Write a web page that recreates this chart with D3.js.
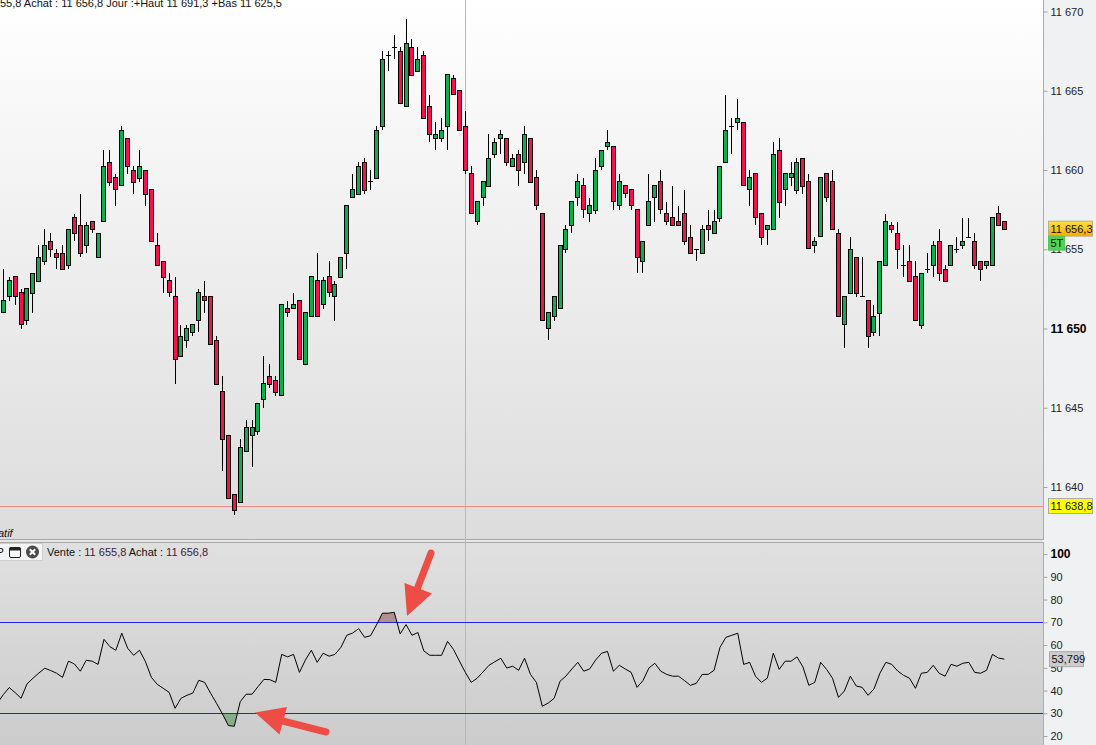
<!DOCTYPE html>
<html>
<head>
<meta charset="utf-8">
<script src="https://cdn.jsdelivr.net/npm/d3@7"></script>
<style>
html,body{margin:0;padding:0;background:#f0f1f3;overflow:hidden}
svg{display:block}
text{font-family:"Liberation Sans",Arial,sans-serif;font-size:11px;fill:#111}
</style>
</head>
<body>
<svg id="c" width="1096" height="745"></svg>
<script>
const opens=[11651,11651,11652,11653.25,11652.25,11650.5,11652.25,11653,11654.25,11655.5,11654.75,
11654.75,11654,11657,11656.5,11655.25,11656.75,11654.5,11656.75,11660.5,11659.5,
11659,11662,11660,11659.5,11660,11658.75,11655.25,11654.25,11653,11652,
11648.25,11649.25,11649.75,11650.5,11652,11652,11649.25,11646,11643.25,11639.5,
11639,11642.25,11643.25,11643.5,11645.5,11647,11646.75,11645.75,11651.25,11651.25,
11651.75,11647.75,11650.75,11653,11651.5,11653.25,11652,11653.25,11654.75,11658.25,
11658.5,11660.5,11659.25,11659.5,11662.75,11667.25,11667.75,11667.5,11664,11667.75,
11666.25,11667.25,11664,11662,11662,11662.75,11665.75,11665,11662.75,11659.75,
11656.75,11658.25,11659,11661,11662,11662,11660.25,11661,11660.5,11662,
11659.5,11657.25,11650,11650.75,11651.25,11655,11656.5,11658.25,11659,11657.25,
11657.5,11660.25,11661.5,11661.5,11657.75,11659,11658.75,11657.5,11654.25,11656.5,
11658.25,11659.25,11657.25,11657,11656.75,11657.25,11655.75,11655,11654.75,11656.5,
11656,11657,11660.5,11662.75,11663,11663,11658.75,11659.75,11657.25,11656.25,
11656.25,11661.25,11658.75,11659.5,11658.75,11660.75,11659.25,11655.25,11655.75,11659.75,
11659.25,11656,11650.25,11652.25,11654.5,11652,11651.75,11649.75,11651,11654,
11656.5,11656,11654,11654.25,11653.25,11650.25,11653.75,11654,11655.5,11653.75,
11654,11655,11655.25,11655.75,11655.5,11654.25,11654,11654,11657.25,11656.75];

const highs=[11652,11653.75,11653.25,11653.25,11652.5,11652.5,11653.5,11655.25,11656.25,11656,11655,
11655.25,11656.25,11657.25,11658.5,11656.75,11656.75,11656,11661.25,11661.25,11659.75,
11662.75,11662,11660.25,11661.25,11660,11658.75,11656,11654.25,11653.5,11653.25,
11650.25,11650.25,11650.25,11652.5,11653,11652,11649.5,11647,11643.25,11639.5,
11643,11644.25,11644.25,11645.25,11648.25,11647.75,11647,11651.5,11651.75,11652.25,
11651.75,11651,11653.25,11654.75,11653.25,11654.25,11653,11654.5,11657.75,11659.75,
11660.5,11660.75,11660,11662.75,11667.5,11667.5,11668.5,11667.75,11669.5,11668.25,
11667.75,11667.5,11664.75,11663,11663.25,11666,11666,11665,11663.75,11660.25,
11658,11659.25,11662.25,11662,11662.5,11662,11661,11661.25,11662.75,11662,
11660,11657.25,11651,11652,11655.25,11656.5,11658,11659.75,11659.5,11658.25,
11660.75,11661.25,11662.5,11661.5,11659.75,11659,11658.75,11657.5,11655.5,11659.75,
11659,11660,11658,11659,11657.75,11658.75,11656.5,11655,11656.5,11657.5,
11657.5,11660.25,11664.75,11663.25,11664.5,11663,11660,11659.75,11657.25,11656.5,
11661.75,11662,11659.75,11660.5,11660.75,11660.75,11659.75,11655.75,11659.5,11659.75,
11660,11656.25,11652,11655.75,11654.5,11654.5,11651.75,11651.5,11654.25,11657.25,
11656.75,11656.75,11655.25,11655.25,11654.25,11653.5,11654.75,11655.5,11656.25,11654,
11655.25,11655.75,11657,11657,11656,11654.25,11654.25,11657,11657.75,11656.75];

const lows=[11650.75,11651,11651.75,11651.5,11650,11650.25,11651,11653,11654,11654.5,11653.75,
11653.75,11653.75,11655.5,11654.5,11654.75,11656,11654.5,11656.75,11659,11657.75,
11659,11659.75,11658.5,11659.25,11657.75,11655.5,11654,11652.25,11652,11646.5,
11648.25,11648.75,11649.5,11649.75,11651,11649,11646.5,11641,11639.25,11638.25,
11639,11642.25,11641.25,11643.25,11645,11646.25,11645.75,11645.75,11650.75,11651.25,
11648,11647.75,11650.75,11650.75,11651.25,11652,11650.5,11653.25,11653.75,11658.25,
11658.5,11658.5,11658.75,11659.5,11662.5,11666.25,11667,11664.25,11664,11666,
11666.25,11663.25,11661.75,11661.25,11661.75,11661.25,11664.75,11662.5,11659.75,11657.25,
11656.5,11657.75,11659,11660.75,11661,11660.25,11660.25,11659,11659.75,11659.25,
11657.5,11650.5,11649.25,11650.5,11651.25,11654.75,11656,11657.75,11657,11656.75,
11657.25,11660,11661.25,11657.5,11657.5,11658.25,11657.5,11653.5,11653.5,11656.5,
11656.75,11657.25,11656.5,11656.5,11656.5,11655.25,11654.75,11654.25,11654.75,11655.5,
11656,11656.75,11660.5,11661,11662.5,11659,11657.75,11656.5,11655.25,11655.25,
11656.25,11657,11657.75,11659,11658.5,11658.5,11655,11654.75,11655.75,11658,
11656.25,11650.75,11648.75,11652.25,11652,11652,11648.75,11649.5,11649.5,11654,
11656,11653.75,11653.25,11653,11650.5,11650,11653.5,11653.25,11653,11653,
11654,11654.75,11655,11655.75,11653.75,11653,11653.75,11654,11656.5,11656.25];

const closes=[11652,11651.75,11653,11652,11650.25,11652.5,11653.5,11654.5,11655.25,11655,11654.5,
11653.75,11656.25,11656,11654.75,11656.5,11656.25,11656,11660.25,11659.25,11658.75,
11662.5,11660.25,11659.25,11660.25,11658.5,11655.5,11654,11653.25,11652.25,11648,
11649.5,11650,11650.25,11652.25,11651.75,11649,11646.5,11643,11639.25,11638.5,
11642.5,11643.75,11643.75,11645.25,11646.5,11646.5,11646,11651.5,11651,11651.5,
11648,11651,11653.25,11650.75,11653,11652.25,11652.75,11654.5,11657.75,11658.75,
11660.25,11658.75,11659.25,11662.5,11667,11667.25,11667.75,11664.25,11668,11666,
11667,11663.25,11662.25,11662.25,11662.5,11666,11664.75,11662.5,11660,11657.25,
11658,11659.25,11660.75,11661.75,11662.25,11660.5,11660.75,11660,11662.25,11659.25,
11657.75,11650.5,11651,11652,11655.25,11656.25,11658,11659.25,11657.5,11657.75,
11660,11661.25,11661.75,11658,11659.25,11658.5,11657.75,11654.5,11655.5,11658,
11659,11657.5,11656.75,11656.5,11656.5,11655.5,11654.75,11655,11656.25,11656.25,
11656.75,11660.25,11662.5,11662.75,11663.25,11659,11659.5,11657,11655.75,11656.5,
11661,11658,11659.75,11659.75,11660.5,11659,11655,11655.5,11659.5,11658.25,
11656.25,11650.75,11652,11655,11652.25,11652,11649.5,11650.75,11654.25,11656.75,
11656.25,11655,11654,11653,11650.5,11653.5,11653.75,11655.25,11653.5,11653,
11655.25,11655,11655.5,11655.75,11654,11653.75,11654.25,11657,11656.5,11656.25];

const rsiValues=[34.5,38.2,41.3,39.1,36.6,42.9,45.4,47.7,49.8,48.8,47.6,
45.8,52.9,51.7,48.5,53.3,52.9,51.5,62.5,59.3,57.7,
65.2,58.6,55.5,57.7,52.7,45.8,42.7,41,39.2,32.2,
36.6,37.9,38.9,44.5,43.6,38.8,34.4,29.7,24.6,24.3,
35.1,38.4,38.4,41.7,44.9,44.8,43.6,55.9,54.8,55.9,
48,53.4,57.7,52.4,56.4,55.1,55.9,59,64.3,65.3,
67.2,63.4,64.1,68.8,74,74,74.4,64.9,69,64.3,
65.5,57.4,55.5,55.5,55.5,61.6,58.1,53,48,43.6,
45.4,48.2,51.1,52.7,54.2,49.9,50.7,48.9,54.2,47.1,
43.6,33.1,34.5,36.6,44.1,46.4,49.5,52.4,48.5,49.5,
53.4,56.4,57.2,48.5,51.1,49.5,48,41.4,44.4,49.9,
52,48.5,47.1,46.3,46.3,44.4,42.3,43.2,47.1,47.1,
48.9,59,63.4,64.3,65.2,51.5,52.4,46.3,43.6,45.5,
56.4,49.3,52.9,52.9,54.8,50.4,42.3,43.6,52.4,49.3,
45.4,37,39.8,46.3,42,41.4,37.9,40.7,47.6,52.4,
51.5,48.6,46.7,45.4,41,47.6,48,51.1,47.6,46.3,
51.5,50.7,52,52.4,48,47.6,48.9,55.9,54.3,53.8];

const priceTicks=[11640,11645,11650,11655,11660,11665,11670];
const rsiTicks=[20,30,40,50,60,70,80,90,100];
const boldTicks=[11650,100];
const rsiLevels=[30,70];
const supportPrice=11638.8;
const lastPrice=11656.3;
const lastRsi=53.799;
const crosshairIndex=78;
const spaced=v=>{const s=String(v);return s.slice(0,2)+" "+s.slice(2)};
const comma=(v,d)=>v.toFixed(d).replace(".",",");

const W=1096,H=745,axisX=1043;
const svg=d3.select("#c");
const defs=svg.append("defs");
const grad=(id,stops)=>{const g=defs.append("linearGradient").attr("id",id).attr("x1",0).attr("x2",0).attr("y1",0).attr("y2",1);
 stops.forEach(([o,c])=>g.append("stop").attr("offset",o).attr("stop-color",c));};
grad("gTop",[[0,"#ffffff"],[1,"#dcdcdc"]]);
grad("gLow",[[0,"#e0e0e0"],[1,"#cccccc"]]);
grad("gTag",[[0,"#ffe040"],[1,"#f2ad00"]]);

const x=d3.scaleLinear().domain([-1,169]).range([-2.62,1004.3]);
const y=d3.scaleLinear().domain([11640,11670]).range([487,11.5]);
const ry=d3.scaleLinear().domain([20,100]).range([736.05,554.05]);
const px=v=>Math.floor(v)+0.5;

svg.append("rect").attr("width",W).attr("height",H).attr("fill","#f0f1f3");
svg.append("rect").attr("width",axisX).attr("height",540).attr("fill","url(#gTop)");
svg.append("rect").attr("y",542).attr("width",axisX).attr("height",H-542).attr("fill","url(#gLow)");
svg.append("rect").attr("y",540).attr("width",axisX).attr("height",2).attr("fill","#e6e6e6");
[539.5,542.5].forEach(v=>svg.append("line").attr("x1",0).attr("x2",axisX).attr("y1",v).attr("y2",v).attr("stroke","#a9a9a9"));

const plot=svg.append("g");
// crosshair and support level
plot.append("line").attr("x1",px(x(crosshairIndex))).attr("x2",px(x(crosshairIndex))).attr("y1",0).attr("y2",H).attr("stroke","#e9a3a3");
plot.append("line").attr("x1",0).attr("x2",axisX).attr("y1",px(y(supportPrice))).attr("y2",px(y(supportPrice))).attr("stroke","#f08c8c");

// candles
const idx=d3.range(opens.length);
const cg=plot.selectAll("g.k").data(idx).join("g").attr("class","k");
cg.append("line")
 .attr("x1",i=>px(x(i-1))).attr("x2",i=>px(x(i-1)))
 .attr("y1",i=>Math.round(y(highs[i]))).attr("y2",i=>Math.round(y(lows[i])))
 .attr("stroke","#000");
cg.append("rect")
 .attr("x",i=>px(x(i-1))-2).attr("width",4)
 .attr("y",i=>px(y(Math.max(opens[i],closes[i]))))
 .attr("height",i=>Math.max(0.01,Math.round(y(Math.min(opens[i],closes[i]))-y(Math.max(opens[i],closes[i])))))
 .attr("fill",i=>closes[i]>=opens[i]?"#0eae4f":"#f4124d")
 .attr("stroke","#000").attr("stroke-width",1);

// indicator
const rg=svg.append("g");
defs.append("clipPath").attr("id","over").append("rect").attr("x",0).attr("y",543).attr("width",axisX).attr("height",ry(70)-543);
defs.append("clipPath").attr("id","under").append("rect").attr("x",0).attr("y",ry(30)).attr("width",axisX).attr("height",H-ry(30));
const areaOf=b=>d3.area().x((d,i)=>x(i-1)).y0(ry(b)).y1(d=>ry(d));
rg.append("path").datum(rsiValues).attr("d",areaOf(70)).attr("fill","#b48e8e").attr("clip-path","url(#over)");
rg.append("path").datum(rsiValues).attr("d",areaOf(30)).attr("fill","#86ad86").attr("clip-path","url(#under)");
rsiLevels.forEach(v=>rg.append("line").attr("x1",0).attr("x2",axisX).attr("y1",px(ry(v))).attr("y2",px(ry(v))).attr("stroke","#2222dd"));
rg.append("path").datum(rsiValues).attr("fill","none").attr("stroke","#000").attr("stroke-width",1)
 .attr("d",d3.line().x((d,i)=>x(i-1)).y(d=>ry(d)));

// axes
const ax=svg.append("g").attr("transform",`translate(${axisX+0.5},0)`)
 .call(d3.axisRight(y).tickValues(priceTicks).tickSize(4).tickPadding(3).tickFormat(spaced));
const ax2=svg.append("g").attr("transform",`translate(${axisX+0.5},0)`)
 .call(d3.axisRight(ry).tickValues(rsiTicks).tickSize(4).tickPadding(3));
[ax,ax2].forEach(a=>{
 a.attr("font-family",null).attr("font-size",null);
 a.selectAll("line").attr("stroke","#a5a5a5");
 a.selectAll("text").style("font-size","11px").style("fill","#222")
  .filter(d=>boldTicks.includes(d)).style("font-size","12px").style("font-weight","bold").style("fill","#000");
});
ax.select(".domain").attr("d","M0,0V540").attr("stroke","#adadad");
ax2.select(".domain").attr("d","M0,542V745").attr("stroke","#adadad");

// tags
const tag=(tx,ty,tw,th,fill,str,stroke)=>{
 svg.append("rect").attr("x",tx+.5).attr("y",ty+.5).attr("width",tw).attr("height",th).attr("fill",fill).attr("stroke",stroke);
 svg.append("text").attr("x",tx+2.5).attr("y",ty+th/2+4.5).text(str);
};
tag(1048,y(lastPrice)-8,44,15,"url(#gTag)",spaced(lastPrice.toFixed(1)).replace(".",","),"#b9b08a");
tag(1048,y(lastPrice)+7,16,14,"#4fd24f","5T","#55c455");
tag(1048,y(supportPrice)-8,44,15,"#ffff00",spaced(supportPrice.toFixed(1)).replace(".",","),"#aaaaaa");
tag(1049,ry(lastRsi)-8,34,15,"#cdcdcd",comma(lastRsi,3),"#aaaaaa");

// header texts
svg.append("text").attr("x",0).attr("y",7).text("55,8 Achat : 11 656,8 Jour :+Haut 11 691,3 +Bas 11 625,5");
svg.append("text").attr("x",-2).attr("y",537).style("font-style","italic").text("atif");

// toolbar
svg.append("rect").attr("x",-2).attr("y",543.5).attr("width",44.5).attr("height",17).attr("fill","#f4f4f4").attr("stroke","#cfcfcf");
svg.append("text").attr("x",-4).attr("y",556).style("font-style","italic").text("P");
svg.append("rect").attr("x",9.5).attr("y",547.5).attr("width",11).attr("height",10).attr("rx",1.5).attr("fill","#fff").attr("stroke","#222");
svg.append("rect").attr("x",9.5).attr("y",547.5).attr("width",11).attr("height",3).attr("fill","#222");
svg.append("circle").attr("cx",32.5).attr("cy",552).attr("r",6.5).attr("fill","#4a4a4a");
svg.append("path").attr("d","M29.8,549.3L35.2,554.7M35.2,549.3L29.8,554.7").attr("stroke","#fff").attr("stroke-width",2);

const info=svg.append("text").attr("x",47).attr("y",556);
[["Vente : ","#111"],["11 655,8","#40203c"],[" Achat : ","#111"],["11 656,8","#40203c"]]
 .forEach(([s,c])=>info.append("tspan").attr("xml:space","preserve").style("fill",c).style("white-space","pre").text(s));

// arrows
const red="#ee4d45";
const arrows=svg.append("g").attr("fill",red).attr("stroke",red);
arrows.append("line").attr("x1",431).attr("y1",553).attr("x2",416).attr("y2",592).attr("stroke-width",7).attr("stroke-linecap","round");
arrows.append("path").attr("stroke","none").attr("d","M404.5,583L432,593.5L407,616Z");
arrows.append("line").attr("x1",326).attr("y1",732).attr("x2",275).attr("y2",719).attr("stroke-width",7).attr("stroke-linecap","round");
arrows.append("path").attr("stroke","none").attr("d","M255,712.5L287,707L279.5,734.5Z");
</script>
</body>
</html>
